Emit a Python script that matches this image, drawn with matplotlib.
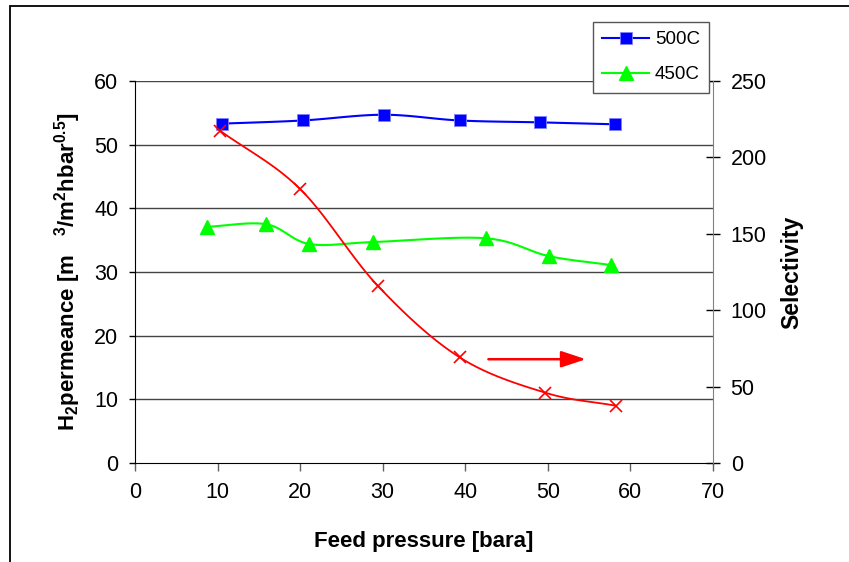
import numpy as np
import matplotlib
matplotlib.use('Agg')
import matplotlib.pyplot as plt
from matplotlib.patches import Rectangle

plt.rcParams['font.family'] = ['Liberation Sans', 'DejaVu Sans']
plt.rcParams['mathtext.fontset'] = 'custom'
plt.rcParams['mathtext.rm'] = 'Liberation Sans:bold'
plt.rcParams['mathtext.it'] = 'Liberation Sans:bold'
plt.rcParams['mathtext.bf'] = 'Liberation Sans:bold'

# permeance at 500C
p500 = [10.5, 20.3, 30.1, 39.3, 49.1, 58.1]
perm500 = [53.3, 53.8, 54.7, 53.8, 53.5, 53.2]

# permeance at 450C
p450 = [8.7, 15.9, 21.1, 28.8, 42.5, 50.1, 57.6]
perm450 = [37.1, 37.5, 34.4, 34.7, 35.3, 32.5, 31.1]

# selectivity (right axis)
psel = [10.3, 20.0, 29.4, 39.3, 49.7, 58.2]
sel = [217.5, 179.3, 116.0, 69.2, 46.0, 37.5]


def smooth(x, y, n=24):
    # catmull-rom curve through the points, like excel "smoothed line"
    x = np.asarray(x, float)
    y = np.asarray(y, float)
    px = np.concatenate([[2 * x[0] - x[1]], x, [2 * x[-1] - x[-2]]])
    py = np.concatenate([[2 * y[0] - y[1]], y, [2 * y[-1] - y[-2]]])
    xs, ys = [], []
    t = np.linspace(0, 1, n)
    for i in range(1, len(px) - 2):
        for arr, out in ((px, xs), (py, ys)):
            p0, p1, p2, p3 = arr[i - 1], arr[i], arr[i + 1], arr[i + 2]
            out.extend(0.5 * (2 * p1 + (-p0 + p2) * t
                              + (2 * p0 - 5 * p1 + 4 * p2 - p3) * t ** 2
                              + (-p0 + 3 * p1 - 3 * p2 + p3) * t ** 3))
    return np.array(xs), np.array(ys)


fig = plt.figure(figsize=(8.49, 5.62), dpi=100)
ax = fig.add_axes([135 / 849, 99 / 562, 578 / 849, 382 / 562])
ax2 = ax.twinx()

# outer frame of the chart
fig.add_artist(Rectangle((10 / 849, -0.1), 1.2, (562 - 6) / 562 + 0.1,
                         transform=fig.transFigure, fill=False,
                         edgecolor='black', lw=1.3, zorder=0))

ax.set_xlim(0, 70)
ax.set_ylim(0, 60)
ax2.set_ylim(0, 250)
ax.set_xticks(range(0, 71, 10))
ax.set_yticks(range(0, 61, 10))
ax2.set_yticks(range(0, 251, 50))

for yv in range(10, 61, 10):
    ax.axhline(yv, color='#444444', lw=1, zorder=0)

ax.spines['top'].set_visible(False)
ax2.spines['top'].set_visible(False)
ax2.spines['left'].set_visible(False)
ax2.spines['bottom'].set_visible(False)
ax.spines['right'].set_visible(False)
ax2.spines['right'].set_color('#808080')
ax.spines['left'].set_color('black')
ax.spines['bottom'].set_color('black')

ax.tick_params(axis='x', direction='out', length=6, width=1, color='#606060',
               labelsize=15.5, pad=8)
ax.tick_params(axis='y', direction='out', length=4, width=1, color='black',
               labelsize=15.5, pad=8)
ax2.tick_params(axis='y', direction='inout', length=9.4, width=1, color='black',
                labelsize=15.5, pad=8)

xs, ys = smooth(p500, perm500)
ax.plot(xs, ys, color='#0000FF', lw=1.5, zorder=3)
ax.plot(p500, perm500, ls='none', marker='s', ms=8.5, color='#0000FF',
        mec='#8080FF', mew=0.6, zorder=4)

xs, ys = smooth(p450, perm450)
ax.plot(xs, ys, color='#00FF00', lw=1.5, zorder=3)
ax.plot(p450, perm450, ls='none', marker='^', ms=10, color='#00FF00',
        mec='#00FF00', zorder=4)

xs, ys = smooth(psel, sel)
ax2.plot(xs, ys, color='#FF0000', lw=1.3, zorder=3)
ax2.plot(psel, sel, ls='none', marker='x', ms=8.5, mew=1.2, color='#FF0000',
         zorder=4)

ax.annotate('', xy=(54.6, 16.3), xytext=(42.8, 16.3),
            arrowprops=dict(arrowstyle='-|>,head_length=0.75,head_width=0.25',
                            color='#FF0000', lw=1.8, mutation_scale=20,
                            shrinkA=0, shrinkB=0))

ax.set_xlabel('Feed pressure [bara]', fontsize=16, fontweight='bold', labelpad=20)
ax.set_ylabel(r'H$_2$permeance [m   $^3$/m$^2$hbar$^{0.5}$]', fontsize=16,
              fontweight='bold', labelpad=8)
ax2.set_ylabel('Selectivity', fontsize=16.5, fontweight='bold', labelpad=10)

h1 = ax.plot([], [], color='#0000FF', lw=1.5, marker='s', ms=8.5,
             mec='#8080FF', mew=0.6)[0]
h2 = ax.plot([], [], color='#00FF00', lw=1.5, marker='^', ms=10)[0]
leg = fig.legend([h1, h2], ['500C', '450C'], loc='upper left',
                 bbox_to_anchor=(593 / 849, 1 - 22 / 562), fontsize=13.5,
                 frameon=True, fancybox=False, edgecolor='#555555',
                 framealpha=1, borderpad=0.5, labelspacing=0.95,
                 handlelength=2.5, handletextpad=0.3, borderaxespad=0)
leg.get_frame().set_linewidth(1)

fig.savefig('out.png', dpi=100)
